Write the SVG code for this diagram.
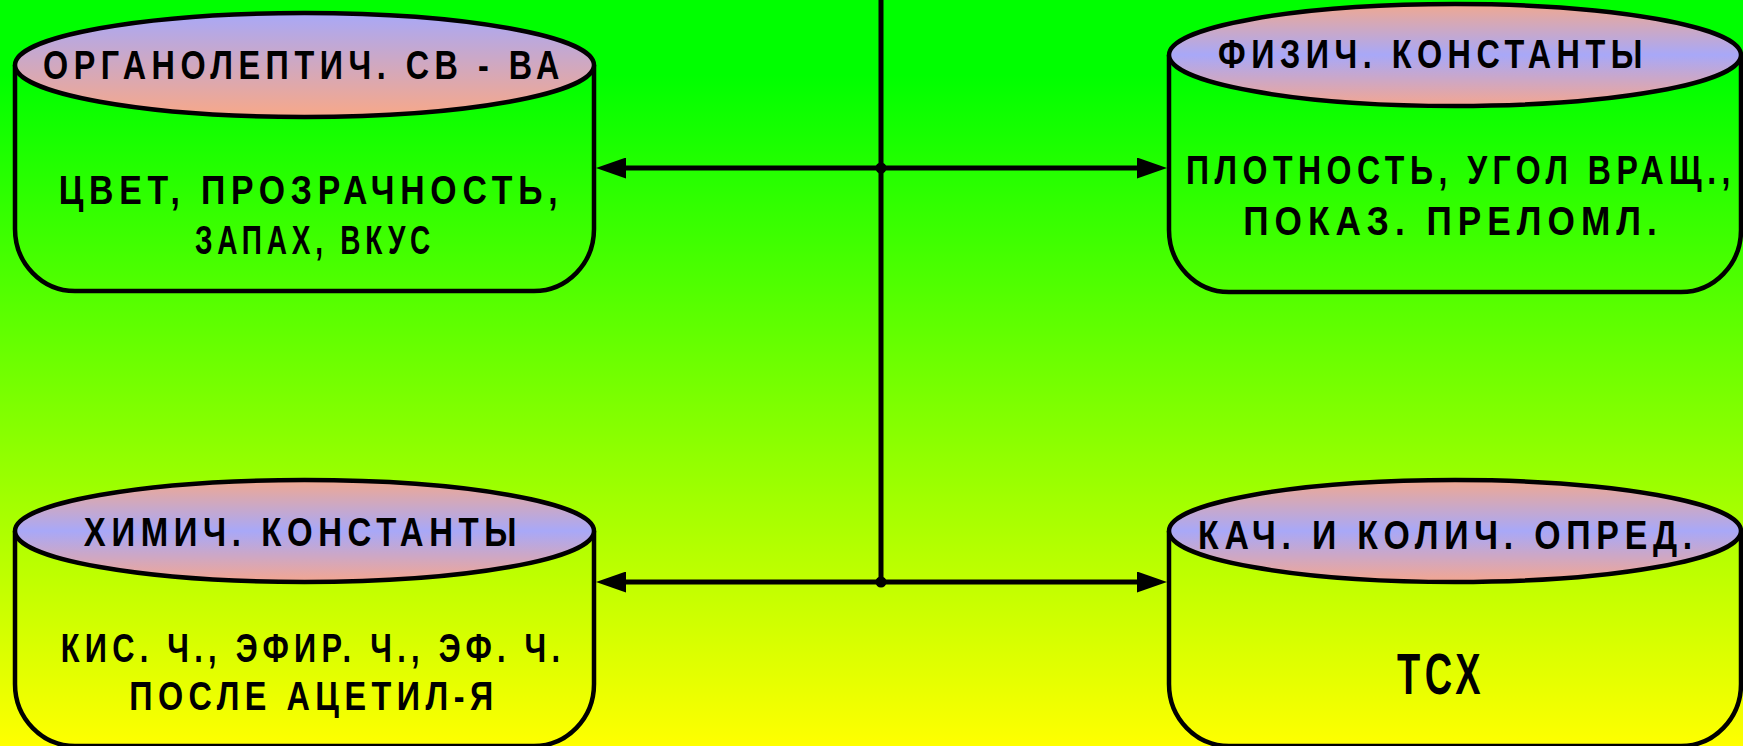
<svg xmlns="http://www.w3.org/2000/svg" width="1743" height="746" viewBox="0 0 1743 746">
  <defs>
    <linearGradient id="bg" x1="0" y1="0" x2="0" y2="1">
      <stop offset="0" stop-color="#00FF00"/>
      <stop offset="0.1" stop-color="#00FF00"/>
      <stop offset="1" stop-color="#FFFF00"/>
    </linearGradient>
    <linearGradient id="capA" x1="0" y1="0" x2="0" y2="1">
      <stop offset="0" stop-color="#A8A8F8"/>
      <stop offset="1" stop-color="#F8A888"/>
    </linearGradient>
    <linearGradient id="capB" x1="0" y1="0" x2="0" y2="1">
      <stop offset="0" stop-color="#F0A890"/>
      <stop offset="0.5" stop-color="#A8A8F8"/>
      <stop offset="1" stop-color="#F4A690"/>
    </linearGradient>
    <marker id="arr" markerUnits="userSpaceOnUse" markerWidth="30" markerHeight="21" refX="6" refY="10.5" orient="auto-start-reverse" viewBox="0 0 30 21">
      <path d="M0,0 L30,10.5 L0,21 Z" fill="#000"/>
    </marker>
  </defs>
  <style>
    .body { fill: none; stroke: #000; stroke-width: 4.5; stroke-linejoin: round; }
    .cap { stroke: #000; stroke-width: 4.5; }
    .t { font-family: "Liberation Sans", Arial, sans-serif; font-weight: bold; font-size: 41px; fill: #000; letter-spacing: 7px; text-anchor: middle; }
    .big { font-size: 58px; }
    .con { stroke: #000; stroke-width: 5; fill: none; }
  </style>

  <rect x="0" y="0" width="1743" height="746" fill="url(#bg)"/>

  <g id="connectors">
    <line class="con" x1="881" y1="0" x2="881" y2="582"/>
    <line class="con" x1="620" y1="168" x2="1143" y2="168" marker-start="url(#arr)" marker-end="url(#arr)"/>
    <line class="con" x1="620" y1="582" x2="1143" y2="582" marker-start="url(#arr)" marker-end="url(#arr)"/>
    <circle cx="881" cy="168" r="5.5" fill="#000"/>
    <circle cx="881" cy="582" r="5.5" fill="#000"/>
  </g>

  <g id="node-organoleptic">
    <path class="body" d="M15,65 L15,229 A60,62 0 0 0 75,291 L534,291 A60,62 0 0 0 594,229 L594,65"/>
    <ellipse class="cap" cx="304.5" cy="65" rx="289.5" ry="52" fill="url(#capA)"/>
    <text class="t" transform="translate(304 79) scale(0.78 1)" x="0" y="0" textLength="669" lengthAdjust="spacingAndGlyphs">ОРГАНОЛЕПТИЧ. СВ - ВА</text>
    <text class="t" transform="translate(311 204) scale(0.78 1)" x="0" y="0" textLength="647" lengthAdjust="spacingAndGlyphs">ЦВЕТ, ПРОЗРАЧНОСТЬ,</text>
    <text class="t" transform="translate(315 254) scale(0.78 1)" x="0" y="0" textLength="308" lengthAdjust="spacingAndGlyphs">ЗАПАХ, ВКУС</text>
  </g>

  <g id="node-physical">
    <path class="body" d="M1169,55 L1169,230 A60,62 0 0 0 1229,292 L1681,292 A60,62 0 0 0 1741,230 L1741,55"/>
    <ellipse class="cap" cx="1455" cy="55" rx="286" ry="51" fill="url(#capB)"/>
    <text class="t" transform="translate(1433 68) scale(0.78 1)" x="0" y="0" textLength="551" lengthAdjust="spacingAndGlyphs">ФИЗИЧ. КОНСТАНТЫ</text>
    <text class="t" transform="translate(1461 184) scale(0.78 1)" x="0" y="0" textLength="705" lengthAdjust="spacingAndGlyphs">ПЛОТНОСТЬ, УГОЛ ВРАЩ.,</text>
    <text class="t" transform="translate(1453 235) scale(0.78 1)" x="0" y="0" textLength="538" lengthAdjust="spacingAndGlyphs">ПОКАЗ. ПРЕЛОМЛ.</text>
  </g>

  <g id="node-chemical">
    <path class="body" d="M15,531 L15,684 A60,62 0 0 0 75,746 L534,746 A60,62 0 0 0 594,684 L594,531"/>
    <ellipse class="cap" cx="304.5" cy="531" rx="289.5" ry="51" fill="url(#capB)"/>
    <text class="t" transform="translate(303 546) scale(0.78 1)" x="0" y="0" textLength="562" lengthAdjust="spacingAndGlyphs">ХИМИЧ. КОНСТАНТЫ</text>
    <text class="t" transform="translate(313 662) scale(0.78 1)" x="0" y="0" textLength="647" lengthAdjust="spacingAndGlyphs">КИС. Ч., ЭФИР. Ч., ЭФ. Ч.</text>
    <text class="t" transform="translate(314 710) scale(0.78 1)" x="0" y="0" textLength="474" lengthAdjust="spacingAndGlyphs">ПОСЛЕ АЦЕТИЛ-Я</text>
  </g>

  <g id="node-quality">
    <path class="body" d="M1169,531 L1169,684 A60,62 0 0 0 1229,746 L1681,746 A60,62 0 0 0 1741,684 L1741,531"/>
    <ellipse class="cap" cx="1455" cy="531" rx="286" ry="51" fill="url(#capB)"/>
    <text class="t" transform="translate(1448 549) scale(0.78 1)" x="0" y="0" textLength="641" lengthAdjust="spacingAndGlyphs">КАЧ. И КОЛИЧ. ОПРЕД.</text>
    <text class="t big" transform="translate(1441 694) scale(0.78 1)" x="0" y="0" textLength="113" lengthAdjust="spacingAndGlyphs">ТСХ</text>
  </g>
</svg>
